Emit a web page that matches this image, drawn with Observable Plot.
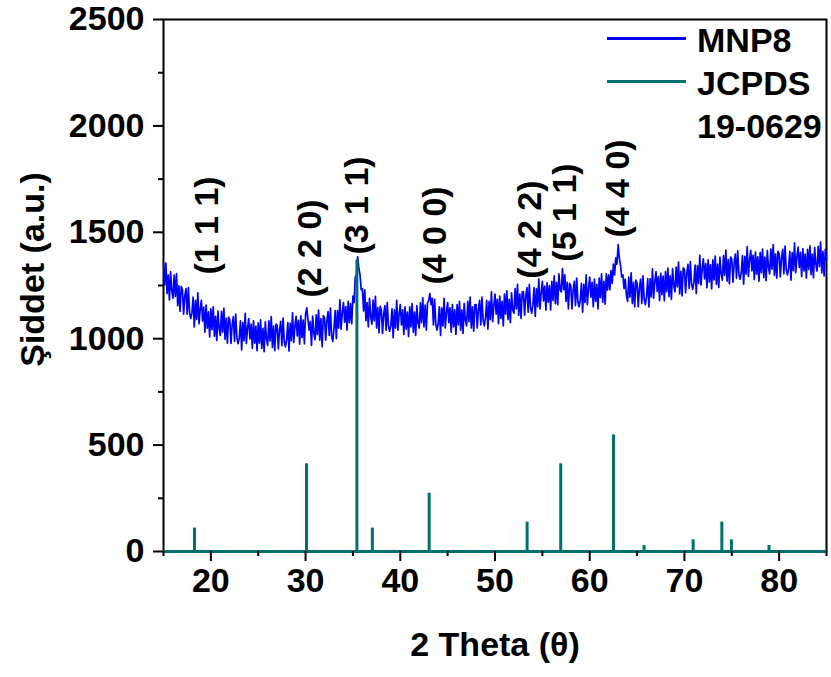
<!DOCTYPE html>
<html><head><meta charset="utf-8">
<script src="https://cdn.jsdelivr.net/npm/d3@7"></script>
<script src="https://cdn.jsdelivr.net/npm/@observablehq/plot@0.6"></script>
<style>
body{margin:0;background:#fff;}
#wrap{position:relative;width:831px;height:677px;font-family:"Liberation Sans",Arial,sans-serif;font-weight:bold;}
#legend{position:absolute;left:607px;top:19px;font-size:34px;line-height:43px;color:#000;}
.row{display:flex;align-items:flex-start;}
.sw{width:79px;height:3px;margin-right:11px;margin-top:18px;}
</style></head><body><div id="wrap"><div id="chart"></div><div id="legend"></div></div>
<script>
// MNP8 diffractogram, sampled from 15° every 0.125° (2θ); one row per degree
const thetaStart = 15, thetaStep = 0.125;
const mnp8 = [
1355,1252,1355,1212,1300,1182,1315,1227,
1190,1299,1198,1306,1155,1249,1128,1246,
1230,1115,1200,1235,1115,1240,1125,1095,
1120,1195,1055,1180,1090,1215,1070,1140,
1180,1082,1149,1031,1158,1049,1126,1008,
1140,1042,1150,1012,1105,992,1130,1047,
1015,1128,1031,1144,997,1096,979,1102,
1090,978,1066,1104,987,1116,1004,977,
1005,1084,947,1076,990,1119,978,1051,
1094,999,1069,954,1084,979,1059,944,
1074,979,1089,954,1049,939,1079,999,
969,1084,989,1104,959,1059,944,1069,
1062,952,1042,1082,967,1097,987,962,
995,1076,942,1073,990,1121,982,1059,
1105,1013,1086,974,1107,1005,1088,976,
1115,1145,1090,1040,1080,968,1106,1025,
995,1112,1019,1134,993,1095,962,1108,
1100,993,1085,1127,1015,1144,1010,987,
1050,1132,1000,1132,1050,1182,1045,1122,
1170,1078,1151,1040,1175,1075,1165,1070,
1200,1170,1290,1300,1385,1330,1300,1230,
1235,1130,1230,1085,1170,1055,1190,1105,
1068,1181,1084,1199,1050,1146,1028,1152,
1135,1025,1115,1155,1040,1170,1060,1035,
1060,1140,1005,1135,1050,1180,1040,1115,
1160,1065,1135,1020,1150,1045,1125,1010,
1150,1055,1165,1030,1125,1015,1155,1075,
1050,1168,1075,1192,1055,1158,1040,1168,
1180,1212,1160,1190,1065,1185,1070,1040,
1070,1150,1015,1145,1060,1190,1050,1125,
1170,1075,1145,1030,1160,1055,1135,1020,
1160,1065,1175,1040,1135,1025,1165,1085,
1060,1175,1080,1195,1050,1150,1035,1160,
1160,1050,1140,1180,1065,1195,1085,1060,
1100,1180,1045,1175,1090,1220,1080,1155,
1210,1115,1185,1070,1200,1095,1175,1060,
1210,1115,1225,1090,1185,1075,1215,1135,
1120,1235,1140,1255,1110,1210,1095,1220,
1220,1110,1200,1240,1125,1255,1145,1120,
1160,1240,1105,1235,1150,1280,1140,1215,
1270,1177,1247,1134,1262,1172,1250,1135,
1270,1180,1295,1165,1265,1160,1305,1230,
1220,1330,1230,1300,1175,1265,1140,1260,
1250,1140,1230,1270,1155,1285,1175,1150,
1180,1260,1125,1255,1170,1300,1160,1235,
1290,1195,1265,1150,1280,1175,1255,1140,
1285,1193,1305,1172,1270,1162,1305,1228,
1300,1230,1320,1260,1350,1300,1380,1350,
1442,1380,1345,1290,1300,1235,1280,1205,
1175,1290,1195,1310,1165,1265,1150,1275,
1260,1150,1240,1280,1165,1295,1185,1160,
1200,1282,1149,1281,1196,1328,1190,1268,
1315,1222,1292,1179,1307,1207,1294,1178,
1315,1221,1332,1198,1295,1185,1329,1249,
1220,1337,1244,1360,1210,1317,1201,1333,
1325,1216,1307,1349,1236,1362,1256,1232,
1265,1346,1212,1343,1260,1392,1253,1329,
1375,1281,1353,1240,1370,1267,1348,1234,
1370,1276,1388,1255,1350,1241,1383,1304,
1275,1391,1297,1416,1270,1372,1258,1384,
1375,1266,1357,1398,1283,1413,1304,1279,
1310,1391,1256,1387,1303,1433,1293,1369,
1415,1320,1392,1278,1407,1303,1385,1270,
1405,1310,1421,1287,1383,1273,1414,1334,
1305,1421,1327,1442,1298,1399,1284,1410,
1400,1290,1380,1420,1305,1435,1325,1300,
1330,1410,1275,1405,1320,1450,1310,1385,
1430,1335,1406,1292,1423,1318,1398,1285,
1420,1325,1436,1301,1397,1287,1428,1348,
1318,1434,1339,1454,1309,1410,1295,1420,
1372
];
// JCPDS 19-0629 reference lines
const jcpdsTheta = [18.27, 30.10, 35.42, 37.05, 43.05, 53.39, 56.94, 62.51, 65.74, 70.92, 73.95, 74.96, 78.93];
const jcpdsIntensity = [110, 412, 1370, 110, 274, 138, 412, 548, 28, 55, 138, 55, 28];
// Miller index labels
const hklLabels = ["(1 1 1)", "(2 2 0)", "(3 1 1)", "(4 0 0)", "(4 2 2)", "(5 1 1)", "(4 4 0)"];
const hklTheta = [19.65, 30.52, 35.48, 43.72, 53.75, 57.45, 63.04];
const hklIntensity = [1532, 1424, 1626, 1485, 1513, 1593, 1706];
// axes
const xTicks = [20, 30, 40, 50, 60, 70, 80];
const xMinor = [15, 25, 35, 45, 55, 65, 75, 85];
const yTicks = [0, 500, 1000, 1500, 2000, 2500];
const yMinor = [250, 750, 1250, 1750, 2250];
const xTitle = "2 Theta (θ)";
const yTitle = "Şiddet (a.u.)";
const seriesNames = ["MNP8", "JCPDS<br>19-0629"];
const seriesColors = ["#0000ff", "#00706e"];

const line = mnp8.map((v, i) => ({theta: thetaStart + i * thetaStep, intensity: v}));
const sticks = jcpdsTheta.map((t, i) => ({theta: t, intensity: jcpdsIntensity[i]}));
const labels = hklLabels.map((l, i) => ({label: l, theta: hklTheta[i], intensity: hklIntensity[i]}));
const teal = seriesColors[1];
const FS = 34;

const chart = Plot.plot({
  width: 831, height: 677,
  marginLeft: 163, marginRight: 5, marginTop: 19, marginBottom: 126,
  x: {domain: [15, 85]},
  y: {domain: [0, 2500]},
  style: {fontFamily: "'Liberation Sans', Arial, sans-serif", fontWeight: "bold", background: "white", color: "black", overflow: "visible"},
  marks: [
    Plot.frame({stroke: "black", strokeWidth: 2}),
    Plot.line(line, {x: "theta", y: "intensity", stroke: seriesColors[0], strokeWidth: 1.7}),
    Plot.ruleY([0], {stroke: teal, strokeWidth: 3}),
    Plot.ruleX(sticks, {x: "theta", y1: 0, y2: "intensity", stroke: teal, strokeWidth: 3}),
    Plot.text(labels, {x: "theta", y: "intensity", text: "label", rotate: -90, fontSize: FS, fontWeight: "bold", fill: "black", textAnchor: "middle", lineAnchor: "middle"}),
    Plot.axisY(yTicks, {tickSize: 10, tickPadding: 9, fontSize: FS, fontWeight: "bold", label: null, strokeWidth: 2, tickFormat: d => String(d)}),
    Plot.axisY(yMinor, {tickSize: 5, label: null, strokeWidth: 2, tickFormat: () => ""}),
    Plot.axisX(xTicks, {tickSize: 10, tickPadding: 6, fontSize: FS, fontWeight: "bold", label: null, strokeWidth: 2, tickFormat: d => String(d)}),
    Plot.axisX(xMinor, {tickSize: 5, label: null, strokeWidth: 2, tickFormat: () => ""}),
    Plot.text([xTitle], {frameAnchor: "bottom", dy: 94, text: d => d, fontSize: FS, fontWeight: "bold", textAnchor: "middle", lineAnchor: "middle"}),
    Plot.text([yTitle], {frameAnchor: "left", dx: -130, dy: -16, rotate: -90, text: d => d, fontSize: FS, fontWeight: "bold", textAnchor: "middle", lineAnchor: "middle"})
  ]
});
document.getElementById("chart").appendChild(chart);

const legend = document.getElementById("legend");
seriesNames.forEach((name, i) => {
  const row = document.createElement("div");
  row.className = "row";
  const sw = document.createElement("div");
  sw.className = "sw";
  sw.style.background = seriesColors[i];
  const label = document.createElement("div");
  label.innerHTML = name;
  row.appendChild(sw);
  row.appendChild(label);
  legend.appendChild(row);
});
</script>
</body></html>
